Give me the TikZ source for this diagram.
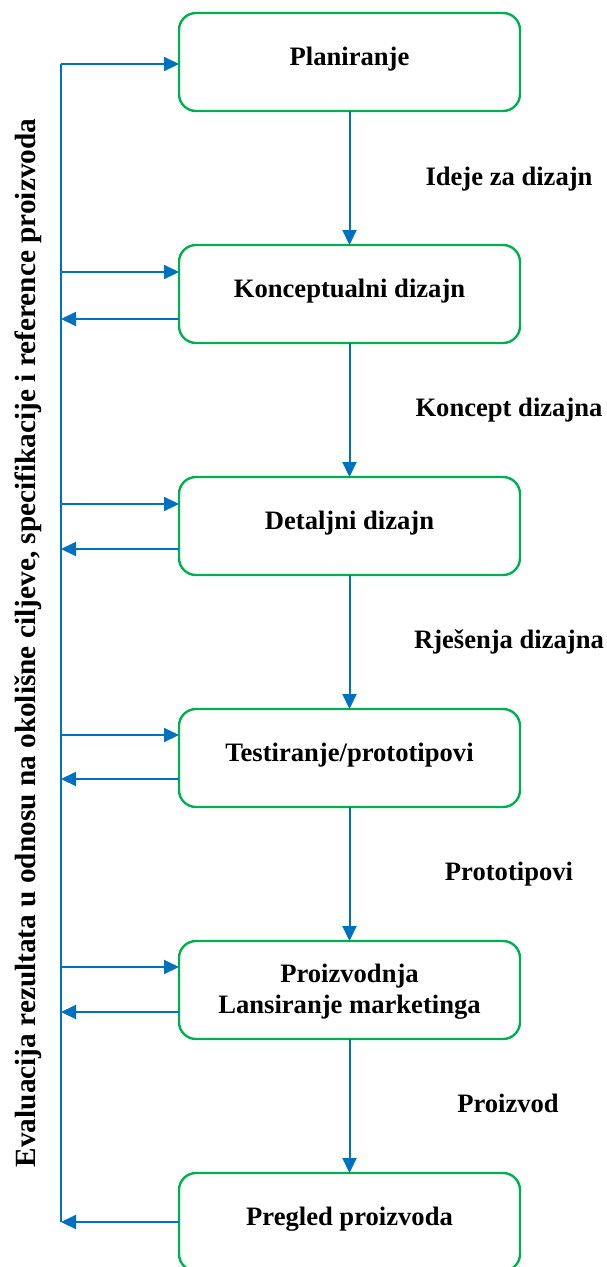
\documentclass[tikz,border=0pt]{standalone}
\usepackage{fontspec}
\setmainfont{Liberation Serif}
\usetikzlibrary{arrows.meta}
\definecolor{flowblue}{HTML}{0070C0}
\definecolor{boxgreen}{HTML}{00B050}
\begin{document}
\begin{tikzpicture}[x=1pt,y=-1pt,
  stagebox/.style={draw=boxgreen, line width=2.4pt, rounded corners=17pt,
    minimum width=341pt, minimum height=98pt, inner sep=0pt, outer sep=0pt, anchor=north west},
  stagetext/.style={font=\fontsize{26.6}{31}\selectfont\bfseries, anchor=base, align=center, inner sep=0pt},
  sidetext/.style={font=\fontsize{29.3}{34}\selectfont\bfseries, anchor=base, inner sep=0pt},
  flowline/.style={draw=flowblue, line width=2pt},
  flow/.style={flowline, -{Triangle[length=15pt,width=14pt]}}]
\useasboundingbox (0,0) rectangle (606,1267);

% stage boxes
\node[stagebox] (b1) at (179,13) {};
\node[stagebox] (b2) at (179,245) {};
\node[stagebox] (b3) at (179,477) {};
\node[stagebox] (b4) at (179,709) {};
\node[stagebox] (b5) at (179,941) {};
\node[stagebox] (b6) at (179,1173) {};

% box texts
\node[stagetext] (t1) at ([yshift=-3pt]b1.center) {Planiranje};
\node[stagetext] (t2) at ([yshift=-3pt]b2.center) {Konceptualni dizajn};
\node[stagetext] (t3) at ([yshift=-3pt]b3.center) {Detaljni dizajn};
\node[stagetext] (t4) at ([yshift=-3pt]b4.center) {Testiranje/prototipovi};
\node[stagetext] (t5) at ([yshift=-23pt]b5.center) {Proizvodnja\\Lansiranje marketinga};
\node[stagetext] (t6) at ([yshift=-3pt]b6.center) {Pregled proizvoda};

% flow labels
\node[stagetext] (l1) at (509,185) {Ideje za dizajn};
\node[stagetext] (l2) at (509,416) {Koncept dizajna};
\node[stagetext] (l3) at (509,648) {Rješenja dizajna};
\node[stagetext] (l4) at (509,880) {Prototipovi};
\node[stagetext] (l5) at (508,1112) {Proizvod};

% vertical flow arrows
\draw[flow] (b1.south) -- (b2.north);
\draw[flow] (b2.south) -- (b3.north);
\draw[flow] (b3.south) -- (b4.north);
\draw[flow] (b4.south) -- (b5.north);
\draw[flow] (b5.south) -- (b6.north);

% feedback line
\coordinate (vtop) at (61,64);
\coordinate (vbot) at (61,1222);
\draw[flowline] (vtop) -- (vbot);

\coordinate (i2) at (61,272);
\coordinate (o2) at (61,319);
\coordinate (i3) at (61,504);
\coordinate (o3) at (61,549);
\coordinate (i4) at (61,735);
\coordinate (o4) at (61,779);
\coordinate (i5) at (61,967);
\coordinate (o5) at (61,1012);

\draw[flow] (vtop) -- (vtop -| b1.west);
\draw[flow] (i2) -- (i2 -| b2.west);
\draw[flow] (o2 -| b2.west) -- (o2);
\draw[flow] (i3) -- (i3 -| b3.west);
\draw[flow] (o3 -| b3.west) -- (o3);
\draw[flow] (i4) -- (i4 -| b4.west);
\draw[flow] (o4 -| b4.west) -- (o4);
\draw[flow] (i5) -- (i5 -| b5.west);
\draw[flow] (o5 -| b5.west) -- (o5);
\draw[flow] (vbot -| b6.west) -- (vbot);

% rotated caption
\node[sidetext, rotate=90] (eval) at (35,643) {Evaluacija rezultata u odnosu na okolišne ciljeve, specifikacije i reference proizvoda};
\end{tikzpicture}
\end{document}
